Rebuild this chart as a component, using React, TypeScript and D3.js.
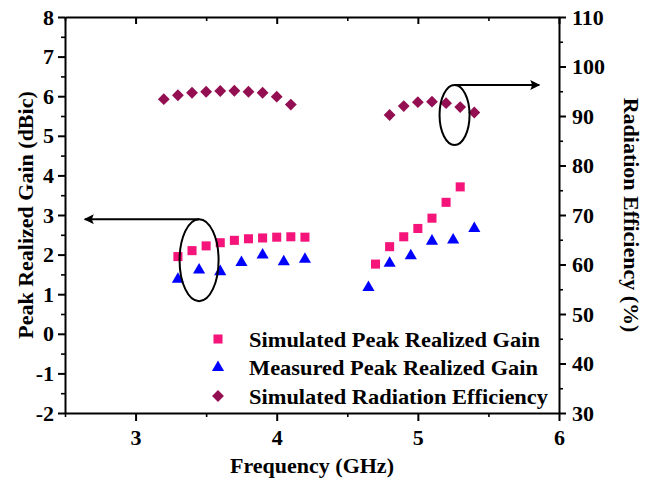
import React, { useEffect, useRef } from "react";
import * as d3 from "d3";

// values
const simGainFreq = [3.3, 3.4, 3.5, 3.6, 3.7, 3.8, 3.9, 4.0, 4.1, 4.2, 4.7, 4.8, 4.9, 5.0, 5.1, 5.2, 5.3];
const simGain = [1.95, 2.1, 2.22, 2.3, 2.36, 2.4, 2.42, 2.44, 2.45, 2.44, 1.76, 2.2, 2.45, 2.66, 2.92, 3.32, 3.71];
const measGainFreq = [3.3, 3.45, 3.6, 3.75, 3.9, 4.05, 4.2, 4.65, 4.8, 4.95, 5.1, 5.25, 5.4];
const measGain = [1.38, 1.61, 1.57, 1.8, 1.99, 1.82, 1.88, 1.17, 1.78, 1.97, 2.34, 2.37, 2.66];
const effFreq = [3.2, 3.3, 3.4, 3.5, 3.6, 3.7, 3.8, 3.9, 4.0, 4.1, 4.8, 4.9, 5.0, 5.1, 5.2, 5.3, 5.4];
const simEff = [93.4, 94.2, 94.7, 94.9, 95.05, 95.1, 94.9, 94.7, 93.9, 92.3, 90.2, 92.0, 92.8, 92.9, 92.6, 91.8, 90.7];

const freqTicks = [3, 4, 5, 6];
const freqMinor = [2.5, 3.5, 4.5, 5.5];
const gainTicks = [-2, -1, 0, 1, 2, 3, 4, 5, 6, 7, 8];
const effTicks = [30, 40, 50, 60, 70, 80, 90, 100, 110];

const legendLabels = [
  "Simulated Peak Realized Gain",
  "Measured Peak Realized Gain",
  "Simulated Radiation Efficiency",
];
const legendWidths = [291, 289, 299];

const xTitle = "Frequency (GHz)";
const yTitle = "Peak Realized Gain (dBic)";
const y2Title = "Radiation Efficiency (%)";

const FONT = "'Liberation Serif', 'Times New Roman', serif";
const PINK = "#f5157a";
const BLUE = "#0000ff";
const PURPLE = "#930f52";

const App = () => {
  const svgRef = useRef(null);

  useEffect(() => {
    const svg = d3.select(svgRef.current);
    svg.selectAll("*").remove();

    const width = 646;
    const height = 482;
    const left = 65, right = 559, top = 17, bottom = 413;

    const x = d3.scaleLinear().domain([2.5, 6]).range([left, right]);
    const y = d3.scaleLinear().domain([-2, 8]).range([bottom, top]);
    const y2 = d3.scaleLinear().domain([30, 110]).range([bottom, top]);

    svg.attr("width", width).attr("height", height);

    // plain hyphen for negatives, like the original
    const fmt = (d) => String(d);

    const styleAxis = (g) => {
      g.selectAll(".domain").attr("stroke", "black").attr("stroke-width", 2);
      g.selectAll(".tick line").attr("stroke", "black").attr("stroke-width", 2);
      g.selectAll("text")
        .attr("font-family", FONT)
        .attr("font-weight", "bold")
        .attr("font-size", 22)
        .attr("fill", "black");
      g.attr("font-family", null).attr("font-size", null);
    };

    const minor = (g) => {
      g.select(".domain").remove();
      g.selectAll(".tick line").attr("stroke", "black").attr("stroke-width", 1.6);
      g.selectAll("text").remove();
    };

    // minor ticks
    svg.append("g")
      .attr("transform", `translate(0,${bottom})`)
      .call(d3.axisBottom(x).tickValues(freqMinor).tickSize(4).tickFormat(() => ""))
      .call(minor);
    svg.append("g")
      .attr("transform", `translate(0,${top})`)
      .call(d3.axisTop(x).tickValues(freqMinor).tickSize(-4).tickFormat(() => ""))
      .call(minor);
    svg.append("g")
      .attr("transform", `translate(${left},0)`)
      .call(d3.axisLeft(y).tickValues(d3.range(-1.5, 8, 1)).tickSize(4).tickFormat(() => ""))
      .call(minor);
    svg.append("g")
      .attr("transform", `translate(${right},0)`)
      .call(d3.axisRight(y2).tickValues(d3.range(35, 110, 10)).tickSize(4).tickFormat(() => ""))
      .call(minor);

    // major axes
    svg.append("g")
      .attr("transform", `translate(0,${bottom})`)
      .call(d3.axisBottom(x).tickValues(freqTicks).tickSize(8).tickSizeOuter(0).tickPadding(8).tickFormat(fmt))
      .call(styleAxis);
    svg.append("g")
      .attr("transform", `translate(0,${top})`)
      .call(d3.axisTop(x).tickValues(freqTicks).tickSize(-7).tickSizeOuter(0).tickFormat(() => ""))
      .call(styleAxis);
    svg.append("g")
      .attr("transform", `translate(${left},0)`)
      .call(d3.axisLeft(y).tickValues(gainTicks).tickSize(7).tickSizeOuter(0).tickPadding(4).tickFormat(fmt))
      .call(styleAxis);
    svg.append("g")
      .attr("transform", `translate(${right},0)`)
      .call(d3.axisRight(y2).tickValues(effTicks).tickSize(7).tickSizeOuter(0).tickPadding(6).tickFormat(fmt))
      .call(styleAxis);

    // axis titles
    const title = (sel) =>
      sel.attr("text-anchor", "middle")
        .attr("font-family", FONT)
        .attr("font-weight", "bold")
        .attr("font-size", 22);
    svg.append("text")
      .attr("x", (left + right) / 2)
      .attr("y", 473)
      .call(title)
      .text(xTitle);
    svg.append("text")
      .attr("transform", `translate(33,${(top + bottom) / 2}) rotate(-90)`)
      .call(title)
      .text(yTitle);
    svg.append("text")
      .attr("transform", `translate(624,${(top + bottom) / 2}) rotate(90)`)
      .call(title)
      .text(y2Title);

    const square = d3.symbol().type(d3.symbolSquare).size(82);
    const triangle = d3.symbol().type(d3.symbolTriangle).size(64);
    const diamond = d3.symbol().type(d3.symbolSquare).size(70);

    const drawSquare = (g, cx, cy) =>
      g.append("path").attr("d", square()).attr("fill", PINK)
        .attr("transform", `translate(${cx},${cy})`);
    const drawTriangle = (g, cx, cy) =>
      g.append("path").attr("d", triangle()).attr("fill", BLUE)
        .attr("transform", `translate(${cx},${cy})`);
    const drawDiamond = (g, cx, cy) =>
      g.append("path").attr("d", diamond()).attr("fill", PURPLE)
        .attr("transform", `translate(${cx},${cy}) rotate(45)`);

    const marks = svg.append("g");
    simGainFreq.forEach((f, i) => drawSquare(marks, x(f), y(simGain[i])));
    measGainFreq.forEach((f, i) => drawTriangle(marks, x(f), y(measGain[i])));
    effFreq.forEach((f, i) => drawDiamond(marks, x(f), y2(simEff[i])));

    // annotations: ellipses with arrows pointing to each axis
    svg.append("defs").append("marker")
      .attr("id", "arrow")
      .attr("viewBox", "0 0 10 10")
      .attr("refX", 9)
      .attr("refY", 5)
      .attr("markerWidth", 5.5)
      .attr("markerHeight", 5)
      .attr("orient", "auto")
      .append("path")
      .attr("d", "M0,0 L10,5 L0,10 L2,5 z")
      .attr("fill", "black");

    const ann = svg.append("g").attr("fill", "none").attr("stroke", "black").attr("stroke-width", 2);
    // left group -> left axis
    const lcx = x(3.45), lcy = y(1.86);
    ann.append("ellipse").attr("cx", lcx).attr("cy", lcy).attr("rx", 19.5).attr("ry", 41);
    ann.append("line")
      .attr("x1", lcx).attr("y1", lcy - 41)
      .attr("x2", x(2.64)).attr("y2", lcy - 41)
      .attr("marker-end", "url(#arrow)");
    // right group -> right axis
    const rcx = x(5.26), rcy = y2(90.2);
    ann.append("ellipse").attr("cx", rcx).attr("cy", rcy).attr("rx", 15).attr("ry", 30);
    ann.append("line")
      .attr("x1", rcx).attr("y1", rcy - 30)
      .attr("x2", x(5.86)).attr("y2", rcy - 30)
      .attr("marker-end", "url(#arrow)");

    // legend
    const legend = svg.append("g");
    const lx = 218;
    legendLabels.forEach((label, i) => {
      const ly = 339 + i * 28.5;
      if (i === 0) drawSquare(legend, lx, ly);
      if (i === 1) drawTriangle(legend, lx, ly);
      if (i === 2) drawDiamond(legend, lx, ly);
      legend.append("text")
        .attr("x", 249)
        .attr("y", ly + 7.5)
        .attr("font-family", FONT)
        .attr("font-weight", "bold")
        .attr("font-size", 22)
        .attr("textLength", legendWidths[i])
        .attr("lengthAdjust", "spacingAndGlyphs")
        .text(label);
    });
  }, []);

  return (
    <div style={{ position: "absolute", left: 0, top: 0, width: 646, height: 482, background: "white" }}>
      <svg ref={svgRef} style={{ display: "block" }}></svg>
    </div>
  );
};

export default App;
